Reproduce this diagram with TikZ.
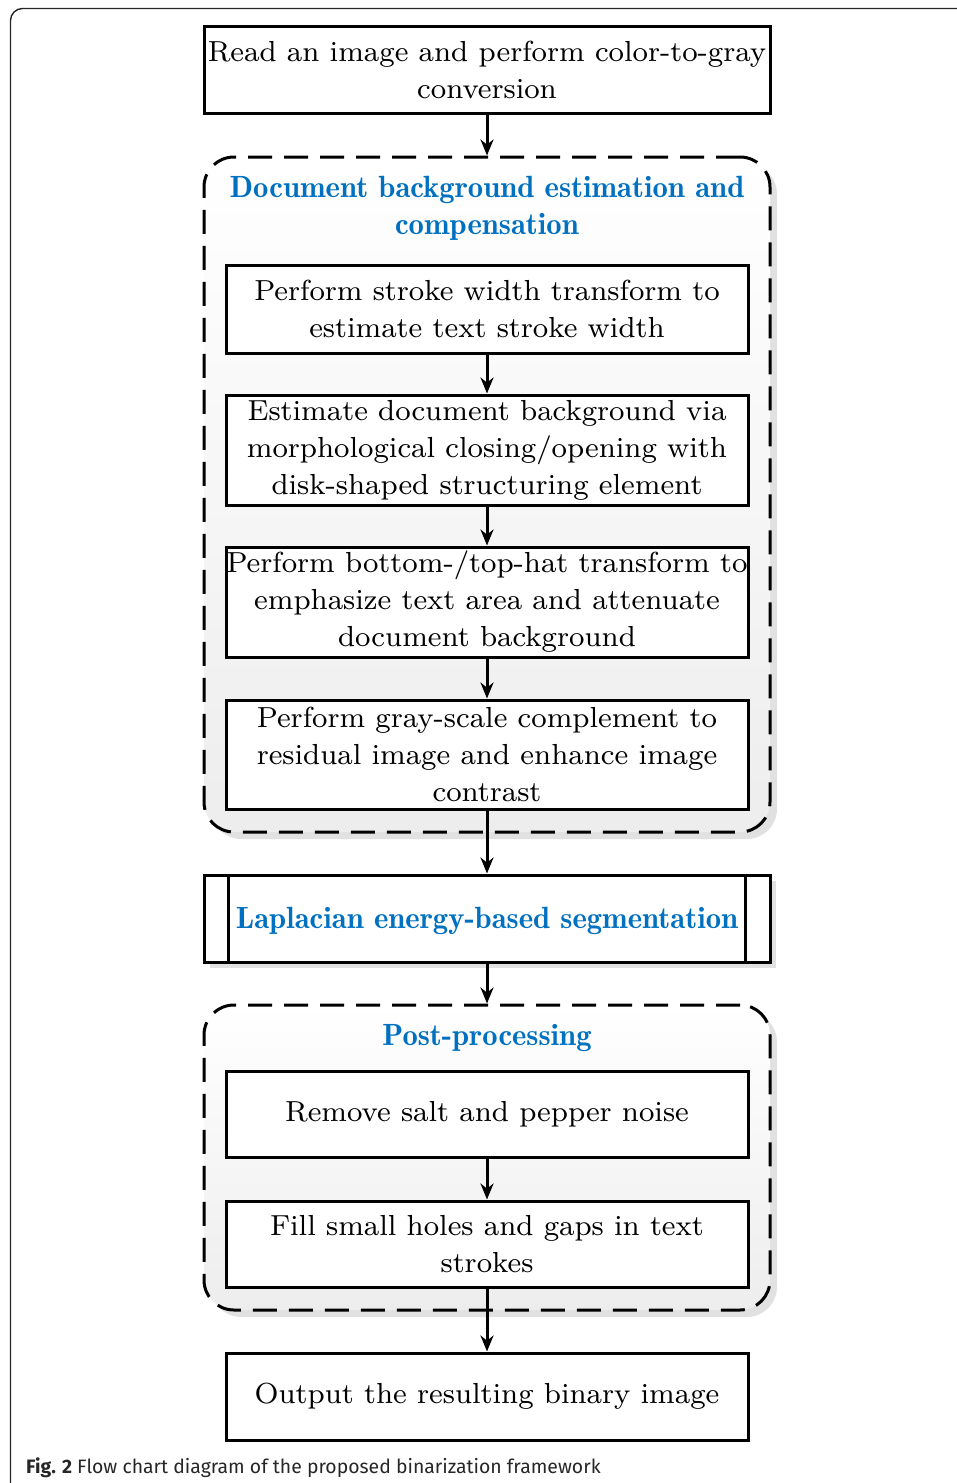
\documentclass[tikz,border=0pt]{standalone}
\usepackage{fontspec}
\usetikzlibrary{arrows.meta,shadows,calc}
\newfontfamily\capfont{Fira Sans}
\newfontfamily\boxfont{lmroman8-regular}[Extension=.otf]
\newfontfamily\titlefont{lmromandemi10-regular}[Extension=.otf]
\definecolor{titleblue}{RGB}{0,112,192}
\definecolor{shadowgray}{RGB}{225,225,225}
\tikzset{
  procbox/.style={draw=black, line width=3pt, fill=white, inner sep=0pt,
    align=center, font=\boxfont\fontsize{29}{37}\selectfont,
    drop shadow={shadow xshift=1.5pt, shadow yshift=-1.5pt, fill=gray!60, opacity=1}},
  groupbox/.style={draw=black, line width=3pt, dash pattern=on 24pt off 12pt,
    rounded corners=30pt, inner sep=0pt, top color=white, bottom color=gray!14,
    drop shadow={shadow xshift=7pt, shadow yshift=-7pt, fill=shadowgray, opacity=1}},
  grouptitle/.style={text=titleblue, align=center,
    font=\titlefont\fontsize{30.7}{37}\selectfont},
  flowarrow/.style={line width=3pt, -{Stealth[length=16pt,width=13pt]}},
}
\begin{document}
\begin{tikzpicture}[x=1pt,y=-1pt]
\useasboundingbox (0,0) rectangle (957,1483);
% outer frame
\draw[line width=1.4pt, black!85, rounded corners=12pt] (10.5,1490) -- (10.5,8.5) -- (965,8.5);

% groups
\node[groupbox, minimum width=566pt, minimum height=675pt] (g1) at (487,494.5) {};
\node[groupbox, minimum width=566pt, minimum height=305pt] (g2) at (487,1157.5) {};

\node[grouptitle] (g1t) at (487,208.5) {Document background estimation and\\compensation};
\node[grouptitle] (g2t) at (487,1038) {Post-processing};

% boxes
\node[procbox, minimum width=566pt, minimum height=87pt] (b1) at (487,69.5)
  {Read an image and perform color-to-gray\\conversion};
\node[procbox, minimum width=522pt, minimum height=88pt] (b2) at (487,309)
  {Perform stroke width transform to\\estimate text stroke width};
\node[procbox, minimum width=522pt, minimum height=110pt] (b3) at (487,450)
  {Estimate document background via\\morphological closing/opening with\\disk-shaped structuring element};
\node[procbox, minimum width=522pt, minimum height=110pt] (b4) at (487,602)
  {Perform bottom-/top-hat transform to\\emphasize text area and attenuate\\document background};
\node[procbox, minimum width=522pt, minimum height=109pt] (b5) at (487,754.5)
  {Perform gray-scale complement to\\residual image and enhance image\\contrast};
\node[procbox, minimum width=566pt, minimum height=87pt,
  drop shadow={shadow xshift=6pt, shadow yshift=-6pt, fill=shadowgray, opacity=1}] (b6) at (487,918.5) {};
\draw[line width=3pt] ($(b6.north west)+(26,0)$) -- ($(b6.south west)+(26,0)$);
\draw[line width=3pt] ($(b6.north east)+(-26,0)$) -- ($(b6.south east)+(-26,0)$);
\node[grouptitle] (b6t) at (487,921) {Laplacian energy-based segmentation};
\node[procbox, minimum width=522pt, minimum height=86pt] (b7) at (487,1114)
  {Remove salt and pepper noise};
\node[procbox, minimum width=522pt, minimum height=86pt] (b8) at (487,1244)
  {Fill small holes and gaps in text\\strokes};
\node[procbox, minimum width=522pt, minimum height=87pt] (b9) at (487,1396.5)
  {Output the resulting binary image};

% arrows
\draw[flowarrow] (b1.south) -- (g1.north);
\draw[flowarrow] (b2.south) -- (b3.north);
\draw[flowarrow] (b3.south) -- (b4.north);
\draw[flowarrow] (b4.south) -- (b5.north);
\draw[flowarrow] (b5.south) -- (b6.north);
\draw[flowarrow] (b6.south) -- (g2.north);
\draw[flowarrow] (b7.south) -- (b8.north);
\draw[flowarrow] (b8.south) -- (b9.north);

% caption
\node[anchor=west, inner sep=0pt, text=black!85, font=\capfont\fontsize{19.4}{22}\selectfont] (cap) at (26,1468)
  {\textbf{Fig. 2} Flow chart diagram of the proposed binarization framework};
\end{tikzpicture}
\end{document}
